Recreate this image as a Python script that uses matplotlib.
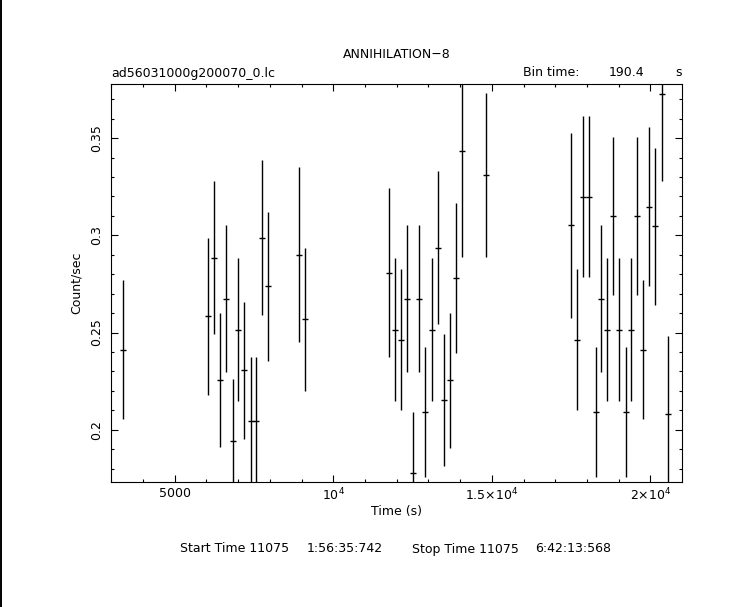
import matplotlib
matplotlib.use("Agg")
import matplotlib.pyplot as plt
from matplotlib.lines import Line2D

# light curve (bin time 190.4 s)
time_s = [3380, 6060, 6249, 6438, 6627, 6827, 7006, 7195, 7395, 7573, 7762, 7951,
          8929, 9118, 11767, 11956, 12145, 12334, 12523, 12713, 12902, 13112,
          13312, 13501, 13690, 13879, 14068, 14825, 17505, 17694, 17883, 18073,
          18273, 18451, 18640, 18829, 19019, 19218, 19397, 19586, 19775, 19964,
          20154, 20354, 20543]
rate = [0.2412, 0.2583, 0.2885, 0.2254, 0.2674, 0.1941, 0.2515, 0.2306, 0.2044,
        0.2044, 0.2988, 0.2738, 0.2901, 0.2568, 0.2808, 0.2515, 0.2464, 0.2674,
        0.1780, 0.2674, 0.2092, 0.2515, 0.2937, 0.2152, 0.2254, 0.2779, 0.3435,
        0.3309, 0.3051, 0.2464, 0.3199, 0.3199, 0.2092, 0.2674, 0.2515, 0.3098,
        0.2515, 0.2092, 0.2515, 0.3098, 0.2412, 0.3147, 0.3046, 0.3728, 0.2083]
rate_err = [0.0358, 0.0405, 0.0392, 0.0345, 0.0377, 0.0319, 0.0367, 0.0351,
            0.0329, 0.0329, 0.0400, 0.0382, 0.0450, 0.0369, 0.0433, 0.0367,
            0.0361, 0.0377, 0.0310, 0.0377, 0.0333, 0.0367, 0.0395, 0.0339,
            0.0346, 0.0385, 0.0546, 0.0421, 0.0475, 0.0361, 0.0413, 0.0413,
            0.0333, 0.0377, 0.0367, 0.0405, 0.0367, 0.0333, 0.0367, 0.0405,
            0.0358, 0.0408, 0.0403, 0.0449, 0.0398]
half_bin = 95.2

x_ticks = [5000, 10000, 15000, 20000]
x_labels = ["5000", r"$10^4$", r"$1.5{\times}10^4$", r"$2{\times}10^4$"]
y_ticks = [0.2, 0.25, 0.3, 0.35]
y_labels = ["0.2", "0.25", "0.3", "0.35"]

W, H = 743, 607
plt.rcParams["font.family"] = "DejaVu Sans"
plt.rcParams["font.size"] = 9

fig = plt.figure(figsize=(W / 100, H / 100), dpi=100)
ax = fig.add_axes([111 / W, 1 - 481.5 / H, 571 / W, 397.5 / H])

ax.errorbar(time_s, rate, yerr=rate_err, xerr=half_bin, fmt="none",
            ecolor="black", elinewidth=1.0, capsize=0)

ax.set_xlim(2990, 20995)
ax.set_ylim(0.1734, 0.3778)

ax.set_xticks(x_ticks)
ax.set_xticklabels(x_labels)
ax.set_xticks(range(3000, 21000, 1000), minor=True)
ax.set_yticks(y_ticks)
ax.set_yticklabels(y_labels, rotation=90, va="center")
ax.set_yticks([v / 100 for v in range(18, 38)], minor=True)

ax.tick_params(which="both", direction="in", top=True, right=True,
               width=0.8, color="black")
ax.tick_params(which="major", length=5)
ax.tick_params(which="minor", length=2.5)
ax.tick_params(axis="x", pad=4)
ax.tick_params(axis="y", pad=6)
for s in ax.spines.values():
    s.set_linewidth(0.8)

ax.set_xlabel("Time (s)", labelpad=1)
ax.set_ylabel("Count/sec", labelpad=5)

def px_text(x, y, s, **kw):
    fig.text(x / W, 1 - y / H, s, va="center", **kw)

px_text(397, 55, "ANNIHILATION\u22128", ha="center")
px_text(111, 73, "ad56031000g200070_0.lc", ha="left")
px_text(523, 73, "Bin time:", ha="left")
px_text(609, 73, "190.4", ha="left")
px_text(675, 73, "s", ha="left")
px_text(180, 549, "Start Time 11075", ha="left")
px_text(307, 549, "1:56:35:742", ha="left")
px_text(412, 549, "Stop Time 11075", ha="left")
px_text(535, 549, "6:42:13:568", ha="left")

fig.add_artist(Line2D([0.7 / W, 0.7 / W], [0, 1], color="black", lw=1.4,
                      transform=fig.transFigure))

fig.savefig("out.png", dpi=100)
